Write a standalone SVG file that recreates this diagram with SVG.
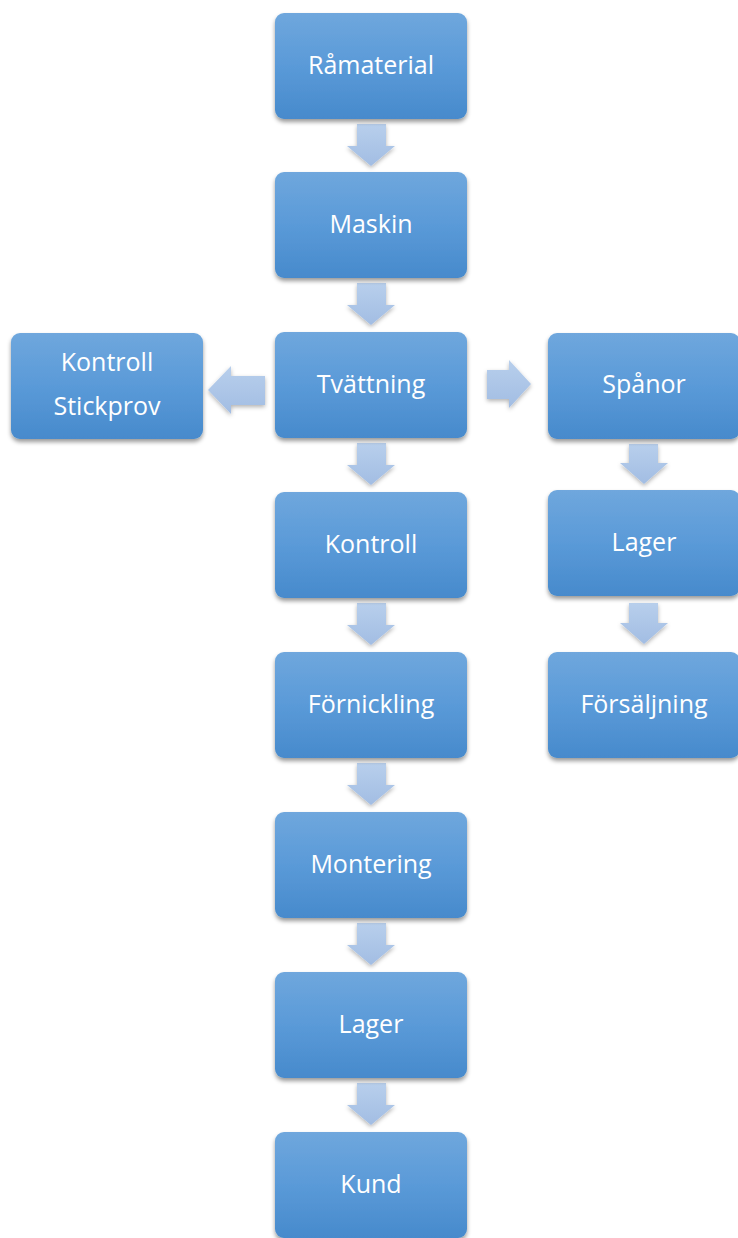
<svg xmlns="http://www.w3.org/2000/svg" width="738" height="1238" viewBox="0 0 738 1238">
<defs>
<linearGradient id="box" x1="0" y1="0" x2="0" y2="1">
<stop offset="0" stop-color="#6fa7dd"/>
<stop offset="0.5" stop-color="#5a9ad8"/>
<stop offset="1" stop-color="#478acc"/>
</linearGradient>
<linearGradient id="arrV" x1="0" y1="0" x2="0" y2="1">
<stop offset="0" stop-color="#b8cfec"/>
<stop offset="1" stop-color="#a2bde3"/>
</linearGradient>
<linearGradient id="arrH" x1="0" y1="0" x2="0" y2="1">
<stop offset="0" stop-color="#b8cfec"/>
<stop offset="1" stop-color="#a2bde3"/>
</linearGradient>
<filter id="sh" x="-10%" y="-10%" width="120%" height="130%">
<feDropShadow dx="0" dy="3" stdDeviation="2.2" flood-color="#000" flood-opacity="0.4"/>
</filter>
<filter id="ash" x="-20%" y="-20%" width="140%" height="150%">
<feDropShadow dx="0" dy="2" stdDeviation="2" flood-color="#000" flood-opacity="0.3"/>
</filter>
</defs>
<style>
.b{fill:url(#box);filter:url(#sh)}
.t{font-family:"Open Sans","Noto Sans",sans-serif;font-size:25px;fill:#fff;text-anchor:middle}
.av{fill:url(#arrV);filter:url(#ash)}
.ah{fill:url(#arrH);filter:url(#ash)}
</style>
<rect width="738" height="1238" fill="#fff"/>
<g id="connectors">
<path class="av" d="M357,124H386V146H395L371,166L347,146H357Z"/>
<path class="av" d="M357,283H386V305H395L371,325L347,305H357Z"/>
<path class="av" d="M357,443H386V465H395L371,485L347,465H357Z"/>
<path class="av" d="M357,603H386V625H395L371,645L347,625H357Z"/>
<path class="av" d="M357,763H386V785H395L371,805L347,785H357Z"/>
<path class="av" d="M357,923H386V945H395L371,965L347,945H357Z"/>
<path class="av" d="M357,1083H386V1105H395L371,1125L347,1105H357Z"/>
<path class="av" d="M629,444H658V463H668L644,484L620,463H629Z"/>
<path class="av" d="M629,603H658V623H668L644,644L620,623H629Z"/>
<path class="ah" d="M265,376V405H231V414L208,390L231,366V376Z"/>
<path class="ah" d="M487,370V399H509V408L531,384L509,360V370Z"/>
</g>
<g id="n1"><rect class="b" x="275" y="13" width="192" height="106" rx="9"/><text class="t" x="371" y="74">Råmaterial</text></g>
<g id="n2"><rect class="b" x="275" y="172" width="192" height="106" rx="9"/><text class="t" x="371" y="233">Maskin</text></g>
<g id="n3"><rect class="b" x="275" y="332" width="192" height="106" rx="9"/><text class="t" x="371" y="393">Tvättning</text></g>
<g id="n4"><rect class="b" x="275" y="492" width="192" height="106" rx="9"/><text class="t" x="371" y="553">Kontroll</text></g>
<g id="n5"><rect class="b" x="275" y="652" width="192" height="106" rx="9"/><text class="t" x="371" y="713">Förnickling</text></g>
<g id="n6"><rect class="b" x="275" y="812" width="192" height="106" rx="9"/><text class="t" x="371" y="873">Montering</text></g>
<g id="n7"><rect class="b" x="275" y="972" width="192" height="106" rx="9"/><text class="t" x="371" y="1033">Lager</text></g>
<g id="n8"><rect class="b" x="275" y="1132" width="192" height="106" rx="9"/><text class="t" x="371" y="1193">Kund</text></g>
<g id="n9"><rect class="b" x="11" y="333" width="192" height="106" rx="9"/><text class="t" x="107" y="371">Kontroll</text><text class="t" x="107" y="415">Stickprov</text></g>
<g id="n10"><rect class="b" x="548" y="333" width="192" height="106" rx="9"/><text class="t" x="644" y="393">Spånor</text></g>
<g id="n11"><rect class="b" x="548" y="490" width="192" height="106" rx="9"/><text class="t" x="644" y="551">Lager</text></g>
<g id="n12"><rect class="b" x="548" y="652" width="192" height="106" rx="9"/><text class="t" x="644" y="713">Försäljning</text></g>
</svg>
